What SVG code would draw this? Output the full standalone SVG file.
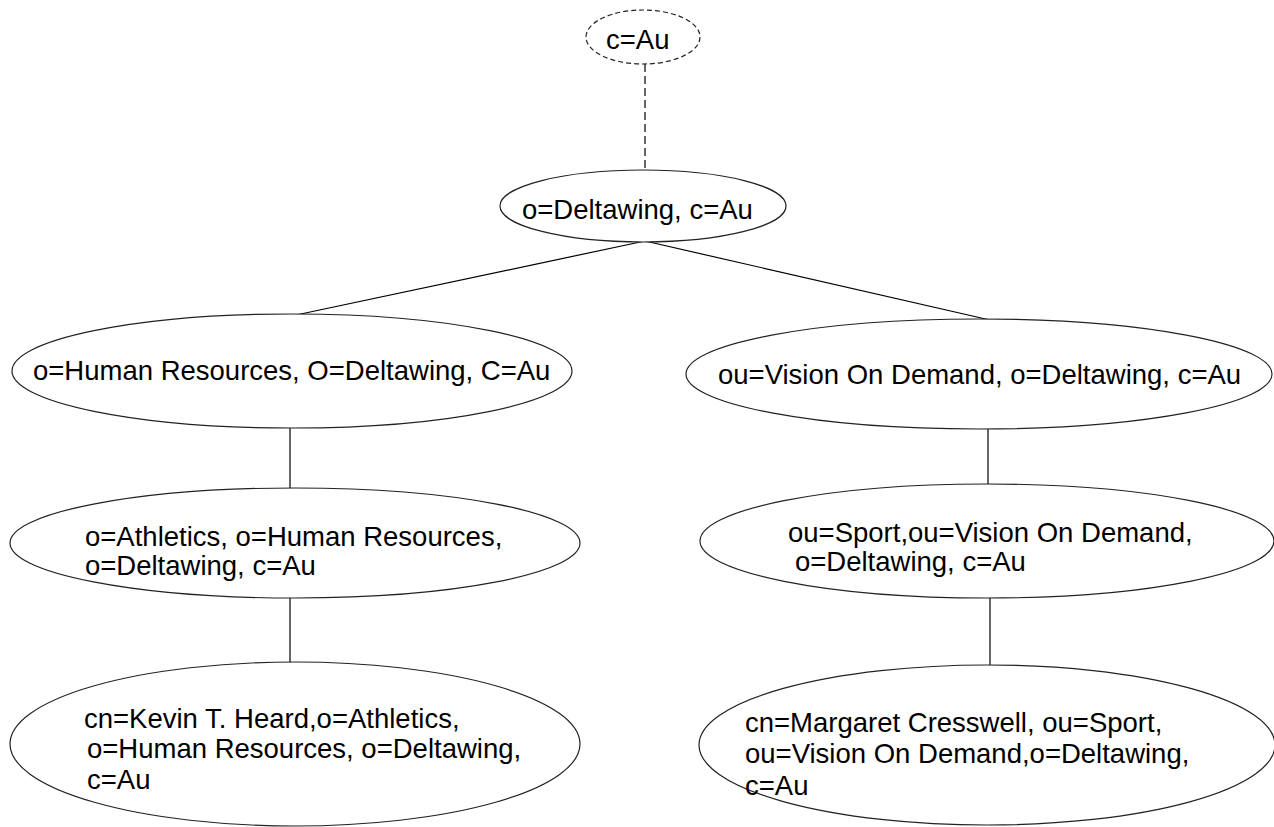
<svg xmlns="http://www.w3.org/2000/svg" width="1274" height="827" viewBox="0 0 1274 827">
<style>
.n ellipse{fill:#fff;stroke:#222;stroke-width:1.2}
.n text{font-family:"Liberation Sans",Arial,sans-serif;font-size:27.5px;fill:#000}
.c line{stroke:#000;stroke-width:1.2}
.dash{stroke-dasharray:8 4}
</style>
<rect width="1274" height="827" fill="#fff"/>
<g id="connectors" class="c">
<line class="dash" x1="645" y1="64" x2="645" y2="170"/>
<line x1="645" y1="241" x2="296" y2="315"/>
<line x1="645" y1="241" x2="990" y2="320"/>
<line x1="290" y1="428" x2="290" y2="489"/>
<line x1="290" y1="598" x2="290" y2="663"/>
<line x1="988" y1="429" x2="988" y2="485"/>
<line x1="990" y1="598" x2="990" y2="666"/>
</g>
<g id="node-c-au" class="n">
<ellipse cx="643" cy="37" rx="57" ry="27" style="stroke-dasharray:5 3"/>
<text x="606" y="49">c=Au</text>
</g>
<g id="node-deltawing" class="n">
<ellipse cx="643" cy="206" rx="143" ry="36"/>
<text x="522" y="219">o=Deltawing, c=Au</text>
</g>
<g id="node-human-resources" class="n">
<ellipse cx="292" cy="371" rx="280" ry="57"/>
<text x="33" y="380">o=Human Resources, O=Deltawing, C=Au</text>
</g>
<g id="node-vision" class="n">
<ellipse cx="979" cy="374" rx="293" ry="55"/>
<text x="718" y="384">ou=Vision On Demand, o=Deltawing, c=Au</text>
</g>
<g id="node-athletics" class="n">
<ellipse cx="295" cy="543" rx="285" ry="55"/>
<text x="85" y="546">o=Athletics, o=Human Resources,</text>
<text x="85" y="575">o=Deltawing, c=Au</text>
</g>
<g id="node-sport" class="n">
<ellipse cx="987" cy="541" rx="287" ry="57"/>
<text x="788" y="542">ou=Sport,ou=Vision On Demand,</text>
<text x="795" y="571">o=Deltawing, c=Au</text>
</g>
<g id="node-kevin" class="n">
<ellipse cx="295" cy="744" rx="285" ry="82"/>
<text x="84" y="728">cn=Kevin T. Heard,o=Athletics,</text>
<text x="87" y="758">o=Human Resources, o=Deltawing,</text>
<text x="87" y="789">c=Au</text>
</g>
<g id="node-margaret" class="n">
<ellipse cx="987" cy="745" rx="288" ry="80"/>
<text x="745" y="732">cn=Margaret Cresswell, ou=Sport,</text>
<text x="745" y="763">ou=Vision On Demand,o=Deltawing,</text>
<text x="745" y="795">c=Au</text>
</g>
</svg>
